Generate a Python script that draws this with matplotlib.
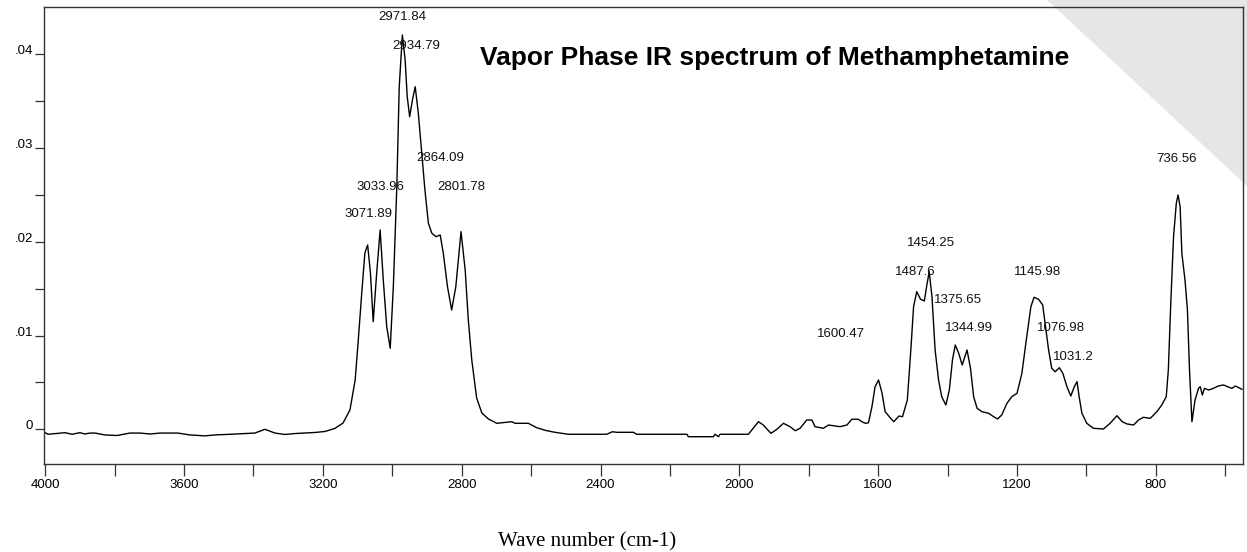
import matplotlib
matplotlib.use("Agg")
import matplotlib.pyplot as plt
from matplotlib.patches import Polygon
from matplotlib.ticker import FixedLocator, FuncFormatter

plt.rcParams["font.family"] = ["Liberation Sans", "DejaVu Sans"]

# spectrum (wave number in cm-1, absorbance)
wavenumber = [
    4000, 3992, 3943, 3923, 3900, 3886, 3871, 3857, 3828, 3793,
    3756, 3727, 3698, 3669, 3641, 3618, 3583, 3540, 3511, 3468,
    3427, 3396, 3367, 3338, 3309, 3280, 3252, 3223, 3194, 3165,
    3142, 3122, 3107, 3098, 3088, 3079, 3071, 3063, 3055, 3045,
    3035, 3026, 3016, 3006, 2997, 2987, 2980, 2971, 2963, 2957,
    2950, 2942, 2934, 2925, 2915, 2906, 2896, 2886, 2874, 2862,
    2853, 2841, 2829, 2817, 2802, 2790, 2781, 2771, 2757, 2742,
    2723, 2699, 2656, 2646, 2608, 2584, 2555, 2531, 2493, 2382,
    2366, 2353, 2305, 2296, 2151, 2147, 2075, 2070, 2060, 2056,
    1974, 1960, 1945, 1931, 1909, 1892, 1873, 1854, 1839, 1825,
    1806, 1791, 1782, 1758, 1743, 1729, 1710, 1690, 1676, 1657,
    1647, 1637, 1628, 1618, 1609, 1599, 1589, 1580, 1564, 1555,
    1540, 1530, 1516, 1506, 1498, 1489, 1478, 1467, 1459, 1453,
    1445, 1436, 1426, 1417, 1405, 1395, 1386, 1378, 1368, 1358,
    1344, 1334, 1325, 1315, 1301, 1282, 1267, 1256, 1244, 1229,
    1215, 1200, 1186, 1172, 1160, 1151, 1138, 1126, 1119, 1109,
    1100, 1090, 1078, 1068, 1056, 1045, 1035, 1027, 1021, 1013,
    999, 980, 951, 932, 912, 897, 883, 864, 850, 836,
    816, 797, 783, 770, 764, 757, 749, 741, 736, 730,
    725, 716, 709, 703, 696, 687, 677, 672, 666, 660,
    648, 634, 620, 605, 593, 581, 571, 552,
]
absorbance = [
    -0.00036, -0.00053, -0.00036, -0.00053, -0.00036, -0.0005, -0.0004, -0.0004, -0.0006, -0.00066,
    -0.0004, -0.0004, -0.0005, -0.0004, -0.0004, -0.0004, -0.0006, -0.0007, -0.0006, -0.00053,
    -0.00045, -0.0004, 0.0, -0.0004, -0.00055, -0.00045, -0.0004, -0.00034, -0.00023, 0.0001,
    0.00067, 0.00206, 0.00526, 0.00953, 0.01454, 0.0188, 0.01966, 0.01667, 0.01148, 0.01667,
    0.02126, 0.01593, 0.01094, 0.00864, 0.01521, 0.02588, 0.03654, 0.04206, 0.03939, 0.03548,
    0.03334, 0.03513, 0.03654, 0.03371, 0.02944, 0.02553, 0.02197, 0.02091, 0.02054, 0.02073,
    0.01877, 0.01521, 0.01273, 0.01521, 0.02108, 0.01699, 0.01166, 0.00739, 0.00334, 0.00174,
    0.0011, 0.00064, 0.00081, 0.00064, 0.00064, 0.00017, -0.00015, -0.00032, -0.00053, -0.00053,
    -0.00026, -0.00032, -0.00032, -0.00053, -0.00053, -0.00079, -0.00079, -0.00053, -0.00079, -0.00053,
    -0.00053, 0.00011, 0.00081, 0.00046, -0.00043, 0.0, 0.00064, 0.00028, -0.00015, 0.00011,
    0.00099, 0.00099, 0.00028, 0.00011, 0.00046, 0.00038, 0.00028, 0.00046, 0.00107, 0.00107,
    0.00081, 0.00064, 0.0007, 0.00241, 0.00454, 0.00526, 0.00387, 0.00188, 0.00117, 0.00081,
    0.00142, 0.00134, 0.00313, 0.00846, 0.01308, 0.01468, 0.01387, 0.01369, 0.01557, 0.01681,
    0.01414, 0.00846, 0.00526, 0.00348, 0.00259, 0.00419, 0.00739, 0.00899, 0.00811, 0.00686,
    0.00846, 0.00651, 0.00348, 0.00224, 0.00188, 0.00171, 0.00134, 0.0011, 0.00153, 0.00277,
    0.00348, 0.00384, 0.00597, 0.00988, 0.01308, 0.01408, 0.01387, 0.01326, 0.01131, 0.00846,
    0.00651, 0.00614, 0.00657, 0.00597, 0.00454, 0.00355, 0.00454, 0.00508, 0.00348, 0.00171,
    0.00064, 0.00011, 0.00003, 0.00064, 0.00145, 0.00081, 0.00057, 0.00046, 0.00099, 0.00128,
    0.00117, 0.00188, 0.00259, 0.00348, 0.00633, 0.01344, 0.02054, 0.02411, 0.02499, 0.02374,
    0.01877, 0.01593, 0.01273, 0.00633, 0.00081, 0.00313, 0.00437, 0.00454, 0.00366, 0.00437,
    0.00419, 0.00437, 0.00462, 0.00473, 0.00454, 0.00437, 0.00462, 0.00427,
]

# peak labels and where their text sits
peak_labels = ["2971.84", "2934.79", "2864.09", "3033.96", "2801.78", "3071.89",
               "1600.47", "1454.25", "1487.6", "1375.65", "1344.99",
               "1145.98", "1076.98", "1031.2", "736.56"]
label_x = [2970, 2932, 2862, 3033, 2802, 3070,
           1708, 1447, 1494, 1370, 1338,
           1142, 1073, 1038, 741]
label_y = [0.0440, 0.0409, 0.0289, 0.0258, 0.0258, 0.0230,
           0.0102, 0.0199, 0.0168, 0.0138, 0.0108,
           0.0168, 0.0108, 0.0077, 0.0288]

major_x = [4000, 3600, 3200, 2800, 2400, 2000, 1600, 1200, 800]
minor_x = [3800, 3400, 3000, 2600, 2200, 1800, 1400, 1000, 600]
major_y = [0.0, 0.01, 0.02, 0.03, 0.04]
minor_y = [-0.005, 0.005, 0.015, 0.025, 0.035]
y_labels = ["0", ".01", ".02", ".03", ".04"]

W, H = 1247, 552
fig = plt.figure(figsize=(W / 100, H / 100), dpi=100)

# grey folded corner at top right, behind the plot frame
corner = Polygon([(1047 / W, 1.0), (1.0, 1.0), (1.0, 1 - 186 / H)],
                 closed=True, transform=fig.transFigure,
                 facecolor="#e6e6e6", edgecolor="none", zorder=0)
fig.patches.append(corner)

ax = fig.add_axes([43.5 / W, 1 - 464 / H, (1243.3 - 43.5) / W, (464 - 7) / H])
ax.patch.set_alpha(0)
ax.set_zorder(1)

ax.plot(wavenumber, absorbance, color="black", lw=1.0)

ax.set_xlim(4005, 548)
ax.set_ylim(-0.0037, 0.04504)

ax.xaxis.set_major_locator(FixedLocator(major_x))
ax.xaxis.set_minor_locator(FixedLocator(minor_x))
ax.xaxis.set_major_formatter(FuncFormatter(lambda v, p: f"{v:.0f}"))
ax.yaxis.set_major_locator(FixedLocator(major_y))
ax.yaxis.set_minor_locator(FixedLocator(minor_y))
ax.set_yticklabels(y_labels)

ax.tick_params(axis="x", which="both", direction="out", length=8.6, width=0.9,
               color="#333333", pad=2.5, labelsize=9.5)
ax.tick_params(axis="y", which="both", direction="out", length=6.5, width=0.9,
               color="#333333", pad=1.0, labelsize=9.5)
for lab in ax.get_yticklabels():
    lab.set_verticalalignment("baseline")

for s in ax.spines.values():
    s.set_color("#333333")
    s.set_linewidth(1.0)

for txt, x, y in zip(peak_labels, label_x, label_y):
    ax.text(x, y, txt, ha="center", va="center", fontsize=9.5, color="#111111")

fig.text(774.5 / W, 1 - 65 / H, "Vapor Phase IR spectrum of Methamphetamine",
         ha="center", va="baseline", fontsize=19, fontweight="bold")

fig.text(587 / W, 1 - 546.7 / H, "Wave number (cm-1)", ha="center",
         va="baseline", fontsize=15, family=["Liberation Serif", "DejaVu Serif"])

fig.savefig("out.png", dpi=100)
